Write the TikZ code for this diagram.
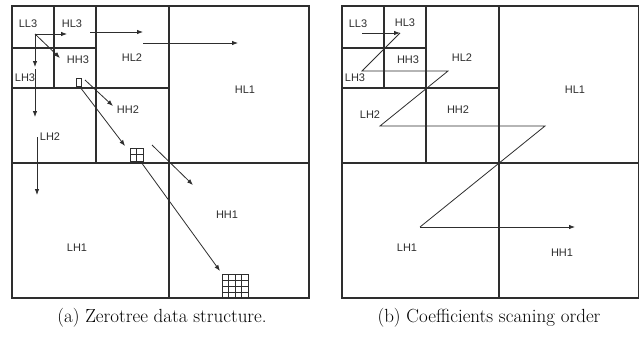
\documentclass[tikz,border=0pt]{standalone}
\usepackage{fontspec}
\newfontfamily\labfont{Liberation Sans}
\usetikzlibrary{arrows.meta}
\definecolor{ink}{HTML}{2E2E2E}
\tikzset{
  frame/.style={draw=ink, line width=1.2pt},
  arr/.style={draw=ink, line width=0.8pt, -{Latex[length=6pt,width=4.5pt]}},
  scanline/.style={draw=ink, line width=0.8pt},
  lab/.style={font=\labfont\fontsize{11}{13}\selectfont, text=ink, inner sep=0pt},
  captext/.style={font=\fontsize{19}{22}\selectfont, text=black, inner sep=0pt},
  cell/.style={draw=ink, line width=0.9pt},
  subbands/.pic={
    \draw[frame] (0,0) rectangle (297,292);
    \draw[frame] (157,0) -- (157,292);
    \draw[frame] (0,157) -- (297,157);
    \draw[frame] (84,0) -- (84,157);
    \draw[frame] (0,82) -- (157,82);
    \draw[frame] (42,0) -- (42,82);
    \draw[frame] (0,42) -- (84,42);
  }
}
\begin{document}
\begin{tikzpicture}[x=1pt,y=-1pt]
\useasboundingbox (0,0) rectangle (639,345);
\fill[white] (0,0) rectangle (639,345);

% ---------------- (a) ----------------
\pic at (12,6) {subbands};
\node[lab] (aLL3) at (28,24) {LL3};
\node[lab] (aHL3) at (72,24) {HL3};
\node[lab] (aHH3) at (78,60) {HH3};
\node[lab] (aLH3) at (25,78) {LH3};
\node[lab] (aHL2) at (132,58) {HL2};
\node[lab] (aHH2) at (128,110) {HH2};
\node[lab] (aLH2) at (50,137) {LH2};
\node[lab] (aHL1) at (245,90) {HL1};
\node[lab] (aHH1) at (227,215) {HH1};
\node[lab] (aLH1) at (77,248) {LH1};

\draw[cell] (76,78) rectangle (81,86);
\draw[cell] (130,148) rectangle (143,161);
\draw[cell] (136.5,148) -- (136.5,161) (130,154.5) -- (143,154.5);
\draw[cell] (222,274) rectangle (248,298);
\foreach \i in {1,2,3} {
  \draw[cell] (222+6.5*\i,274) -- (222+6.5*\i,298);
  \draw[cell] (222,274+6*\i) -- (248,274+6*\i);
}

\coordinate (o) at (35,34);
\coordinate (p1) at (67,34);
\coordinate (p2) at (35,67);
\coordinate (p3s) at (35,69);
\coordinate (p3) at (35,117);
\coordinate (p4s) at (37,137);
\coordinate (p4) at (37,195);
\coordinate (p5) at (60,58);
\coordinate (p6s) at (90,32);
\coordinate (p6) at (143,32);
\coordinate (p7s) at (143,43);
\coordinate (p7) at (238,43);
\coordinate (p8s) at (85,80);
\coordinate (p8) at (113,106);
\coordinate (p9s) at (80,87);
\coordinate (p9) at (125,146);
\coordinate (p10s) at (152,145);
\coordinate (p10) at (193,185);
\coordinate (p11s) at (141,162);
\coordinate (p11) at (220,271);

\draw[arr] (o) -- (p1);
\draw[arr] (o) -- (p2);
\draw[arr] (p3s) -- (p3);
\draw[arr] (p4s) -- (p4);
\draw[arr] (o) -- (p5);
\draw[arr] (p6s) -- (p6);
\draw[arr] (p7s) -- (p7);
\draw[arr] (p8s) -- (p8);
\draw[arr] (p9s) -- (p9);
\draw[arr] (p10s) -- (p10);
\draw[arr] (p11s) -- (p11);

% ---------------- (b) ----------------
\pic at (342,6) {subbands};
\node[lab] (bLL3) at (358,24) {LL3};
\node[lab] (bHL3) at (405,23) {HL3};
\node[lab] (bHH3) at (408,60) {HH3};
\node[lab] (bLH3) at (355,78) {LH3};
\node[lab] (bHL2) at (462,58) {HL2};
\node[lab] (bHH2) at (458,110) {HH2};
\node[lab] (bLH2) at (370,115) {LH2};
\node[lab] (bHL1) at (575,90) {HL1};
\node[lab] (bLH1) at (407,248) {LH1};
\node[lab] (bHH1) at (562,253) {HH1};

\coordinate (s0) at (362,33);
\coordinate (s1) at (400,33);
\coordinate (s2) at (362,71);
\coordinate (s3) at (448,71);
\coordinate (s4) at (380,126);
\coordinate (s5) at (545,126);
\coordinate (s6) at (420,227);
\coordinate (s7) at (575,227);
\draw[arr] (s0) -- (s1);
\draw[scanline] (s1) -- (s2) -- (s3) -- (s4) -- (s5) -- (s6);
\draw[arr] (s6) -- (s7);

% captions
\node[captext] (capa) at (162,318) {(a) Zerotree data structure.};
\node[captext] (capb) at (489,318) {(b) Coefficients scaning order};
\end{tikzpicture}
\end{document}
